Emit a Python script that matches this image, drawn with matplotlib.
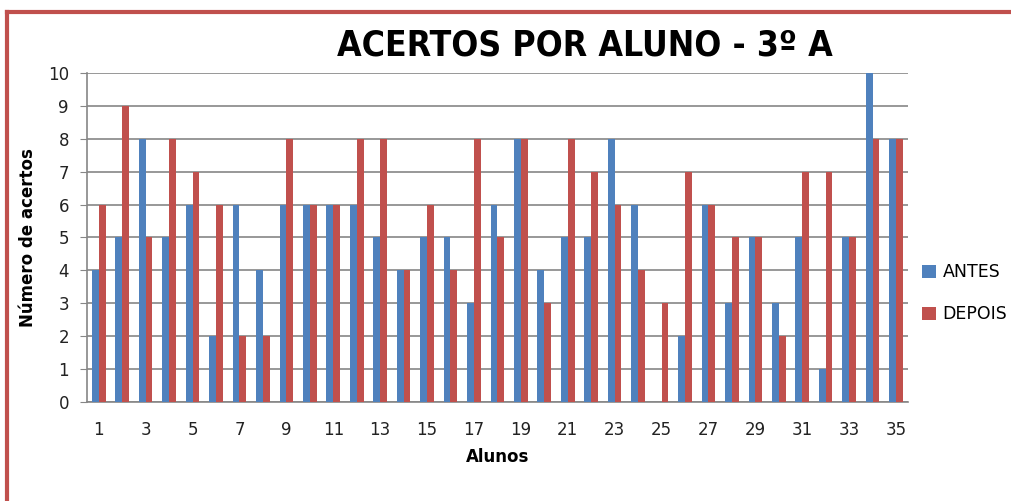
import matplotlib.pyplot as plt
import numpy as np

# Acertos por aluno (antes / depois)
alunos = list(range(1, 36))
antes = [4, 5, 8, 5, 6, 2, 6, 4, 6, 6, 6, 6, 5, 4, 5, 5, 3, 6, 8, 4,
         5, 5, 8, 6, 0, 2, 6, 3, 5, 3, 5, 1, 5, 10, 8]
depois = [6, 9, 5, 8, 7, 6, 2, 2, 8, 6, 6, 8, 8, 4, 6, 4, 8, 5, 8, 3,
          8, 7, 6, 4, 3, 7, 6, 5, 5, 2, 7, 7, 5, 8, 8]
tick_labels = [str(a) if a % 2 == 1 else "" for a in alunos]

plt.rcParams["font.family"] = ["DejaVu Sans"]

fig = plt.figure(figsize=(10.12, 5.01), dpi=100)
ax = fig.add_axes([0.086, 0.198, 0.811, 0.656])

x = np.arange(len(alunos))
w = 0.29
ax.bar(x - w / 2, antes, width=w, color="#4F81BD", label="ANTES", zorder=3)
ax.bar(x + w / 2, depois, width=w, color="#C0504D", label="DEPOIS", zorder=3)

ax.set_xlim(-0.5, len(alunos) - 0.5)
ax.set_ylim(0, 10)
ax.set_yticks(range(0, 11))
ax.set_xticks(x)
ax.set_xticklabels(tick_labels)
ax.yaxis.grid(True, color="#868686", linewidth=1.2, zorder=0)
ax.tick_params(axis="both", labelsize=12, colors="#868686", labelcolor="#222222")
ax.tick_params(axis="x", length=0, pad=14)
ax.tick_params(axis="y", length=5, pad=8)
for s in ["top", "right"]:
    ax.spines[s].set_visible(False)
for s in ["left", "bottom"]:
    ax.spines[s].set_color("#868686")
    ax.spines[s].set_linewidth(1.2)

ax.set_ylabel("Número de acertos", fontsize=12, fontweight="bold", labelpad=8)
ax.set_xlabel("Alunos", fontsize=12, fontweight="bold", labelpad=6)

fig.text(0.578, 0.91, "ACERTOS POR ALUNO - 3º A", fontsize=25.5, fontweight="bold",
         fontstretch="condensed", ha="center", va="center")

ax.legend(loc="center left", bbox_to_anchor=(0.998, 0.33), frameon=False,
          fontsize=12.5, handlelength=0.8, handleheight=0.8, handletextpad=0.4,
          labelspacing=1.4)

# red outer frame (left and top edges)
fig.add_artist(plt.Line2D([0.0065, 0.0065], [0.0, 0.976], color="#C0504D",
                          linewidth=3, transform=fig.transFigure))
fig.add_artist(plt.Line2D([0.0065, 1.0], [0.976, 0.976], color="#C0504D",
                          linewidth=3, transform=fig.transFigure))

fig.savefig("out.png", dpi=100)
